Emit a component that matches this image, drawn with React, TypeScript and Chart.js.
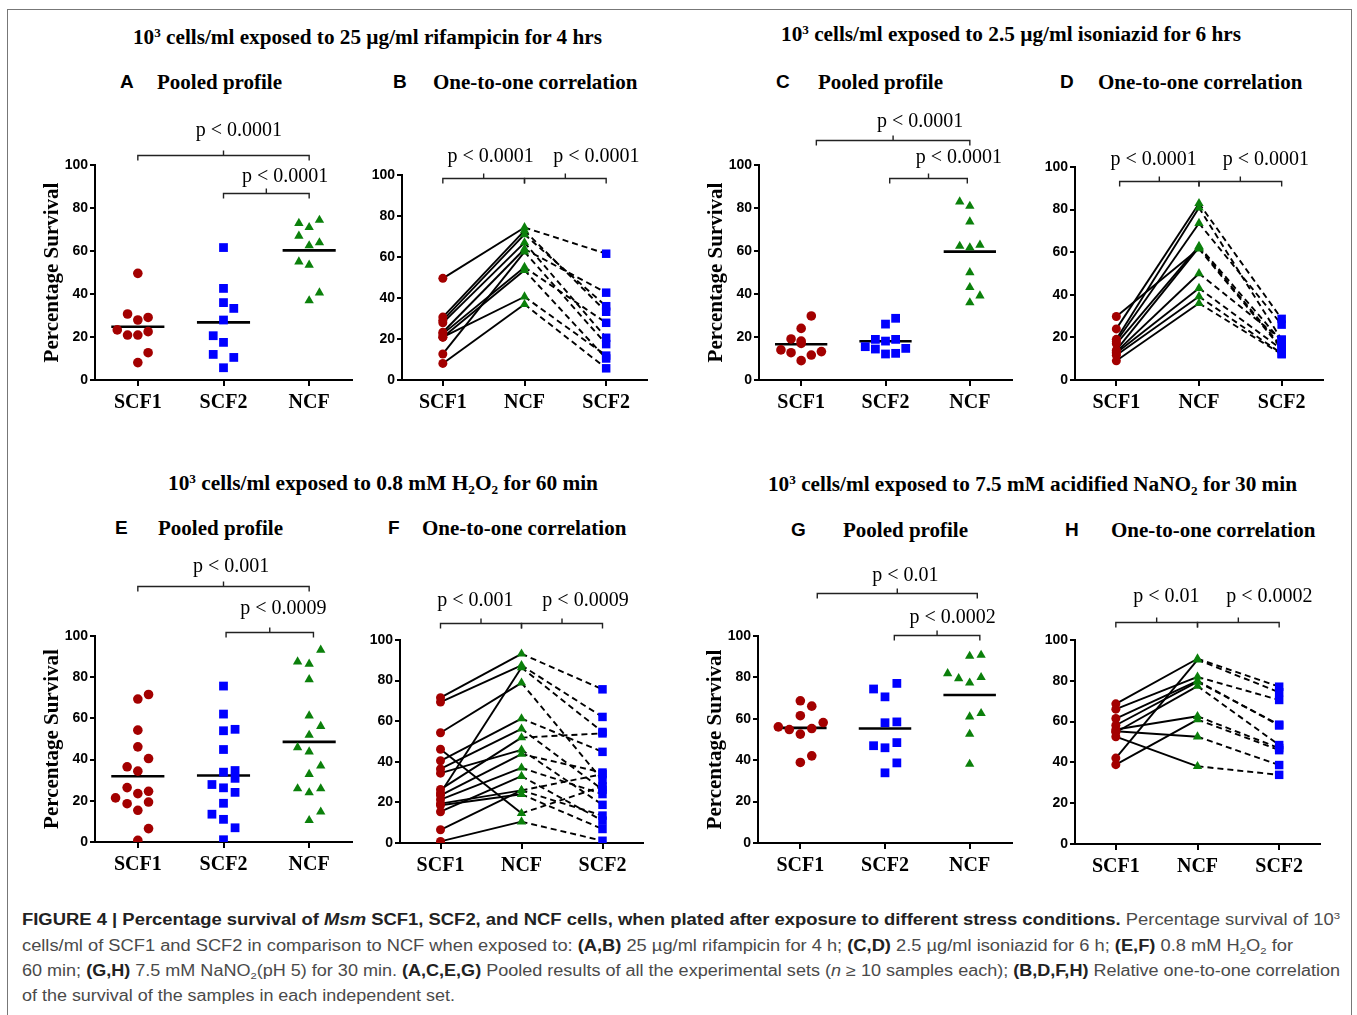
import React, { useEffect, useLayoutEffect, useRef } from 'react';
import { Chart, registerables } from 'chart.js';

Chart.register(...registerables);

// ---------------- data ----------------
const pooledCategories = ['SCF1', 'SCF2', 'NCF'];
const pairedCategories = ['SCF1', 'NCF', 'SCF2'];
const yTickValues = [0, 20, 40, 60, 80, 100];

// A - rifampicin pooled
const aScf1 = [23.3, 30.7, 49.6, 27.9, 20.9, 20.9, 29.1, 22.5, 12.7, 8.1];
const aScf1Jitter = [-0.24, -0.12, 0, 0, 0, -0.12, 0.12, 0.12, 0.12, 0];
const aScf2 = [61.6, 42.6, 36.0, 33.3, 27.9, 20.6, 17.5, 11.9, 10.5, 5.7];
const aScf2Jitter = [0, 0, 0, 0.12, 0, -0.12, 0, -0.12, 0.12, 0];
const aNcf = [72.9, 71.0, 74.4, 67.0, 62.5, 63.9, 55.0, 53.5, 40.6, 36.9];
const aNcfJitter = [-0.12, 0, 0.12, -0.12, 0, 0.12, -0.12, 0, 0.12, 0];
const aMeans = [24.8, 26.8, 60.3];
const aBrackets = [
  { from: 0, to: 2, y: 104.7, text: 'p < 0.0001', tx: 1.18, ty: 115.8 },
  { from: 1, to: 2, y: 87.0, text: 'p < 0.0001', tx: 1.72, ty: 94.4 },
];

// B - rifampicin one-to-one
const bScf1 = [49.6, 30.7, 29.1, 27.9, 23.3, 22.5, 20.9, 20.9, 12.7, 8.1];
const bNcf = [74.4, 72.9, 71.0, 67.0, 63.9, 55.0, 53.5, 40.6, 62.5, 36.9];
const bScf2 = [61.6, 33.3, 36.0, 20.6, 42.6, 27.9, 10.5, 11.9, 17.5, 5.7];
const bBrackets = [
  { from: 0, to: 1, y: 98.5, text: 'p < 0.0001', tx: 0.585, ty: 108.8 },
  { from: 1, to: 2, y: 98.5, text: 'p < 0.0001', tx: 1.88, ty: 108.8 },
];

// C - isoniazid pooled
const cScf1 = [29.8, 24.0, 19.1, 18.1, 14.0, 12.7, 13.2, 11.6, 9.0, 17.0];
const cScf1Jitter = [0.12, 0, -0.12, 0, -0.24, -0.12, 0.24, 0.12, 0, 0];
const cScf2 = [28.7, 26.0, 18.9, 18.1, 18.9, 15.5, 14.4, 14.7, 12.1, 12.4];
const cScf2Jitter = [0.12, 0, -0.12, 0, 0.12, -0.24, -0.12, 0.24, 0, 0.12];
const cNcf = [82.9, 80.9, 73.6, 62.3, 61.6, 62.8, 50.0, 43.1, 39.2, 36.0];
const cNcfJitter = [-0.12, 0, 0, -0.12, 0, 0.12, 0, 0, 0.12, 0];
const cMeans = [16.6, 18.0, 59.7];
const cBrackets = [
  { from: 0.18, to: 2.0, y: 111.6, text: 'p < 0.0001', tx: 1.41, ty: 120.0 },
  { from: 1.05, to: 1.97, y: 94.0, text: 'p < 0.0001', tx: 1.87, ty: 103.3 },
];

// D - isoniazid one-to-one
const dScf1 = [29.8, 24.0, 19.1, 18.1, 17.0, 14.0, 13.2, 12.7, 11.6, 9.0];
const dNcf = [61.6, 82.9, 80.9, 73.6, 62.8, 62.3, 50.0, 43.1, 39.2, 36.0];
const dScf2 = [14.7, 28.7, 18.9, 26.0, 18.1, 15.5, 18.9, 14.4, 12.4, 12.1];
const dBrackets = [
  { from: 0.04, to: 1, y: 93.6, text: 'p < 0.0001', tx: 0.45, ty: 103.3 },
  { from: 1, to: 2, y: 93.6, text: 'p < 0.0001', tx: 1.81, ty: 103.3 },
];

// E - H2O2 pooled
const eScf1 = [69.4, 71.6, 54.3, 46.2, 40.5, 36.5, 34.4, 26.4, 23.5, 24.6, 21.4, 18.6, 19.4, 15.4, 6.5, 0.8];
const eScf1Jitter = [0, 0.125, 0, 0, 0.125, -0.125, 0, -0.125, 0, 0.125, -0.26, -0.125, 0.125, 0, 0.125, 0];
const eScf2 = [75.7, 62.1, 54.0, 54.7, 44.9, 33.9, 34.7, 30.9, 27.9, 26.3, 24.1, 18.8, 13.5, 11.0, 6.9, 1.1];
const eScf2Jitter = [0, 0, 0, 0.135, 0, 0, 0.135, 0.135, -0.135, 0, 0.135, 0, -0.135, 0, 0.135, 0];
const eNcf = [93.2, 87.5, 86.4, 78.9, 61.3, 56.2, 51.9, 45.9, 43.8, 37.0, 32.9, 25.9, 24.0, 25.9, 14.6, 10.5];
const eNcfJitter = [0.135, -0.135, 0, 0, 0, 0.135, 0, -0.135, 0, 0.135, 0, -0.135, 0, 0.135, 0.135, 0];
const eMeans = [31.9, 32.3, 48.6];
const eBrackets = [
  { from: 0, to: 2, y: 124.3, text: 'p < 0.001', tx: 1.09, ty: 133.5 },
  { from: 1.03, to: 2.05, y: 101.9, text: 'p < 0.0009', tx: 1.70, ty: 113.1 },
];

// F - H2O2 one-to-one
const fScf1 = [71.6, 69.4, 54.3, 46.2, 24.6, 40.5, 36.5, 34.4, 26.4, 23.5, 21.4, 19.4, 18.6, 15.4, 6.5, 0.8];
const fNcf = [93.2, 87.5, 78.9, 14.6, 86.4, 61.3, 56.2, 45.9, 51.9, 43.8, 37.0, 25.9, 24.0, 32.9, 25.9, 10.5];
const fScf2 = [75.7, 62.1, 30.9, 27.9, 54.7, 44.9, 26.3, 18.8, 54.0, 34.7, 24.1, 33.9, 6.9, 11.0, 13.5, 1.1];
const fBrackets = [
  { from: 0, to: 1, y: 108.4, text: 'p < 0.001', tx: 0.43, ty: 119.2 },
  { from: 1, to: 2, y: 108.4, text: 'p < 0.0009', tx: 1.79, ty: 119.2 },
];

// G - NaNO2 pooled
const gScf1 = [68.7, 66.1, 61.5, 58.2, 56.1, 54.8, 55.3, 52.6, 42.1, 38.9];
const gScf1Jitter = [0, 0.135, 0, 0.27, -0.26, -0.13, 0.135, 0, 0.135, 0];
const gScf2 = [74.4, 77.1, 70.6, 58.1, 58.5, 48.5, 47.0, 46.0, 38.7, 33.9];
const gScf2Jitter = [-0.135, 0.14, 0, 0, 0.14, 0.14, -0.135, 0, 0.14, 0];
const gNcf = [90.3, 90.8, 81.9, 79.5, 77.4, 80.0, 61.0, 62.6, 52.6, 38.1];
const gNcfJitter = [0, 0.135, -0.26, -0.13, 0, 0.135, 0, 0.135, 0, 0];
const gMeans = [55.6, 55.3, 71.5];
const gBrackets = [
  { from: 0.2, to: 2.09, y: 120.8, text: 'p < 0.01', tx: 1.24, ty: 129.0 },
  { from: 1.11, to: 2.12, y: 100.5, text: 'p < 0.0002', tx: 1.80, ty: 108.7 },
];

// H - NaNO2 one-to-one
const hScf1 = [68.7, 66.1, 61.5, 58.2, 56.1, 55.3, 52.6, 54.8, 42.1, 38.9];
const hNcf = [90.8, 81.9, 80.0, 79.5, 62.6, 52.6, 38.1, 77.4, 90.3, 61.0];
const hScf2 = [77.1, 70.6, 58.1, 58.5, 47.0, 38.7, 33.9, 48.5, 74.4, 46.0];
const hBrackets = [
  { from: 0, to: 1, y: 108.8, text: 'p < 0.01', tx: 0.62, ty: 121.0 },
  { from: 1, to: 2, y: 108.8, text: 'p < 0.0002', tx: 1.88, ty: 121.0 },
];

// ---------------- styles ----------------
const SERIF = '"Liberation Serif", "Times New Roman", serif';
const SANS = '"Liberation Sans", Arial, sans-serif';
const NARROW = '"Liberation Sans Narrow", "Liberation Sans", Arial, sans-serif';
const RED = '#a30000';
const BLUE = '#0000ff';
const GREEN = '#0b800b';
const PAD_TOP = 90;
const PAD_RIGHT = 12;
const X_AXIS_H = 45;

type Bracket = { from: number; to: number; y: number; text: string; tx: number; ty: number };

type PanelSpec = {
  kind: 'pooled' | 'paired';
  L: number; R: number; T: number; B: number;
  s1: number[]; s2: number[]; s3: number[];
  j1?: number[]; j2?: number[]; j3?: number[];
  means?: number[];
  brackets: Bracket[];
};

const panels: PanelSpec[] = [
  { kind: 'pooled', L: 95, R: 352, T: 165, B: 380, s1: aScf1, s2: aScf2, s3: aNcf, j1: aScf1Jitter, j2: aScf2Jitter, j3: aNcfJitter, means: aMeans, brackets: aBrackets },
  { kind: 'paired', L: 402, R: 647, T: 175, B: 380, s1: bScf1, s2: bNcf, s3: bScf2, brackets: bBrackets },
  { kind: 'pooled', L: 759, R: 1012, T: 165, B: 380, s1: cScf1, s2: cScf2, s3: cNcf, j1: cScf1Jitter, j2: cScf2Jitter, j3: cNcfJitter, means: cMeans, brackets: cBrackets },
  { kind: 'paired', L: 1075, R: 1323, T: 167, B: 380, s1: dScf1, s2: dNcf, s3: dScf2, brackets: dBrackets },
  { kind: 'pooled', L: 95, R: 352, T: 636, B: 842, s1: eScf1, s2: eScf2, s3: eNcf, j1: eScf1Jitter, j2: eScf2Jitter, j3: eNcfJitter, means: eMeans, brackets: eBrackets },
  { kind: 'paired', L: 400, R: 643, T: 640, B: 843, s1: fScf1, s2: fNcf, s3: fScf2, brackets: fBrackets },
  { kind: 'pooled', L: 758, R: 1012, T: 636, B: 843, s1: gScf1, s2: gScf2, s3: gNcf, j1: gScf1Jitter, j2: gScf2Jitter, j3: gNcfJitter, means: gMeans, brackets: gBrackets },
  { kind: 'paired', L: 1075, R: 1320, T: 640, B: 844, s1: hScf1, s2: hNcf, s3: hScf2, brackets: hBrackets },
];

function makeBracketPlugin(items: Bracket[]) {
  return {
    id: 'brackets',
    afterDraw(chart: any) {
      const { ctx } = chart;
      const x = chart.scales.x;
      const y = chart.scales.y;
      ctx.save();
      ctx.strokeStyle = '#222';
      ctx.lineWidth = 1.4;
      ctx.fillStyle = '#000';
      ctx.font = `20px ${SERIF}`;
      ctx.textAlign = 'center';
      ctx.textBaseline = 'middle';
      for (const b of items) {
        const x1 = x.getPixelForValue(b.from);
        const x2 = x.getPixelForValue(b.to);
        const py = Math.round(y.getPixelForValue(b.y)) + 0.5;
        const xm = (x1 + x2) / 2;
        ctx.beginPath();
        ctx.moveTo(x1, py + 5);
        ctx.lineTo(x1, py);
        ctx.lineTo(x2, py);
        ctx.lineTo(x2, py + 5);
        ctx.moveTo(xm, py);
        ctx.lineTo(xm, py - 5);
        ctx.stroke();
        ctx.fillText(b.text, x.getPixelForValue(b.tx), y.getPixelForValue(b.ty));
      }
      ctx.restore();
    },
  };
}

function buildDatasets(p: PanelSpec) {
  const ds: any[] = [];
  if (p.kind === 'pooled') {
    const groups = [
      { vals: p.s1, jit: p.j1!, color: RED, style: 'circle', r: 4.8 },
      { vals: p.s2, jit: p.j2!, color: BLUE, style: 'rect', r: 6.2 },
      { vals: p.s3, jit: p.j3!, color: GREEN, style: 'triangle', r: 5.4 },
    ];
    groups.forEach((g, cat) => {
      ds.push({
        data: g.vals.map((v, i) => ({ x: cat + g.jit[i], y: v })),
        pointStyle: g.style, pointRadius: g.r, backgroundColor: g.color, borderColor: g.color,
        borderWidth: 0, showLine: false, order: 0,
      });
    });
    (p.means || []).forEach((m, cat) => {
      ds.push({
        data: [{ x: cat - 0.31, y: m }, { x: cat + 0.31, y: m }],
        showLine: true, borderColor: '#000', borderWidth: 2.6, pointRadius: 0, order: 1,
      });
    });
  } else {
    ds.push({ data: p.s1.map((v) => ({ x: 0, y: v })), pointStyle: 'circle', pointRadius: 4.5, backgroundColor: RED, borderColor: RED, borderWidth: 0, showLine: false, order: 0 });
    ds.push({ data: p.s2.map((v) => ({ x: 1, y: v })), pointStyle: 'triangle', pointRadius: 5.4, backgroundColor: GREEN, borderColor: GREEN, borderWidth: 0, showLine: false, order: 0 });
    ds.push({ data: p.s3.map((v) => ({ x: 2, y: v })), pointStyle: 'rect', pointRadius: 6.0, backgroundColor: BLUE, borderColor: BLUE, borderWidth: 0, showLine: false, order: 0 });
    p.s1.forEach((v, i) => {
      ds.push({ data: [{ x: 0, y: v }, { x: 1, y: p.s2[i] }], showLine: true, borderColor: '#000', borderWidth: 1.9, pointRadius: 0, order: 1 });
      ds.push({ data: [{ x: 1, y: p.s2[i] }, { x: 2, y: p.s3[i] }], showLine: true, borderColor: '#000', borderWidth: 1.9, borderDash: [6, 4], pointRadius: 0, order: 1 });
    });
  }
  return ds;
}

function yAxisWidth(p: PanelSpec) {
  return p.kind === 'pooled' ? 80 : 50;
}

function ChartPanel({ spec }: { spec: PanelSpec }) {
  const ref = useRef<HTMLCanvasElement>(null);
  const yW = yAxisWidth(spec);
  const left = spec.L - yW;
  const top = spec.T - PAD_TOP;
  const width = spec.R + PAD_RIGHT - left;
  const height = spec.B + X_AXIS_H - top;
  useEffect(() => {
    const cats = spec.kind === 'pooled' ? pooledCategories : pairedCategories;
    const chart = new Chart(ref.current as HTMLCanvasElement, {
      type: 'scatter',
      data: { datasets: buildDatasets(spec) },
      plugins: [makeBracketPlugin(spec.brackets)],
      options: {
        animation: false,
        responsive: false,
        devicePixelRatio: 1,
        events: [],
        layout: { padding: { top: PAD_TOP, right: PAD_RIGHT, left: 0, bottom: 0 } },
        plugins: { legend: { display: false }, tooltip: { enabled: false } },
        scales: {
          x: {
            type: 'linear', min: -0.5, max: 2.5,
            afterBuildTicks: (s: any) => { s.ticks = cats.map((_, i) => ({ value: i })); },
            afterFit: (s: any) => { s.height = X_AXIS_H; },
            ticks: {
              callback: (_v: any, i: number) => cats[i] ?? '',
              font: { family: SERIF, size: 20, weight: 'bold' }, color: '#000', padding: 5,
              maxRotation: 0, autoSkip: false,
            },
            grid: { drawOnChartArea: false, drawTicks: true, tickLength: 6, color: '#000', lineWidth: 2 },
            border: { display: true, color: '#000', width: 2 },
          },
          y: {
            type: 'linear', min: 0, max: 100,
            afterBuildTicks: (s: any) => { s.ticks = yTickValues.map((v) => ({ value: v })); },
            afterFit: (s: any) => { s.width = yW; },
            ticks: { font: { family: NARROW, size: 14, weight: 'bold' }, color: '#000', padding: 2 },
            grid: { drawOnChartArea: false, drawTicks: true, tickLength: 5, color: '#000', lineWidth: 2 },
            border: { display: true, color: '#000', width: 2 },
            title: spec.kind === 'pooled'
              ? { display: true, text: 'Percentage Survival', font: { family: SERIF, size: 21, weight: 'bold' }, color: '#000', padding: { top: 25, bottom: 0 } }
              : { display: false },
          },
        },
      } as any,
    });
    return () => chart.destroy();
  }, [spec]);
  return (
    <canvas ref={ref} width={width} height={height}
      style={{ position: 'absolute', left, top, width, height }} />
  );
}

// ---------------- text helpers ----------------
function FitLine({ left, top, width, height, center, children, style }: any) {
  const ref = useRef<HTMLDivElement>(null);
  useLayoutEffect(() => {
    const el = ref.current;
    if (!el) return;
    el.style.transform = 'none';
    const w = el.getBoundingClientRect().width;
    if (w > 0) {
      const k = width / w;
      el.style.transform = center ? `translateX(-50%) scaleX(${k})` : `scaleX(${k})`;
    }
  }, [width, center]);
  return (
    <div ref={ref} style={{
      position: 'absolute', left, top, whiteSpace: 'nowrap', lineHeight: `${height}px`,
      transformOrigin: center ? '50% 50%' : '0 50%', ...style,
    }}>{children}</div>
  );
}

const supStyle: React.CSSProperties = { fontSize: '0.62em', verticalAlign: '0.6em', lineHeight: 0 };
const subStyle: React.CSSProperties = { fontSize: '0.62em', verticalAlign: '-0.3em', lineHeight: 0 };

function Header({ cx, cy, w, children }: any) {
  return (
    <FitLine left={cx - w / 2} top={cy - 12} width={w} height={24}
      style={{ fontFamily: SERIF, fontWeight: 'bold', fontSize: 20, color: '#000' }}>{children}</FitLine>
  );
}

function PanelLabel({ letter, lx, tx, cy }: any) {
  return (
    <>
      <div style={{ position: 'absolute', left: lx - 7, top: cy - 12, lineHeight: '24px', fontFamily: SANS, fontWeight: 'bold', fontSize: 19, color: '#000' }}>{letter}</div>
      <div style={{ position: 'absolute', left: tx, top: cy - 12, lineHeight: '24px', fontFamily: SERIF, fontWeight: 'bold', fontSize: 21, color: '#000', whiteSpace: 'nowrap' }}>
        {letter === 'A' || letter === 'C' || letter === 'E' || letter === 'G' ? 'Pooled profile' : 'One-to-one correlation'}
      </div>
    </>
  );
}

const capBase: React.CSSProperties = { fontFamily: SANS, fontSize: 16, color: '#4a4a4a' };
const B = ({ children }: any) => <span style={{ fontWeight: 'bold', color: '#222' }}>{children}</span>;

export default function App() {
  return (
    <div style={{ position: 'absolute', left: 0, top: 0, width: 1357, height: 1015, background: '#fff', overflow: 'hidden' }}>
      <div style={{ position: 'absolute', left: 7, top: 9, width: 1345, height: 1040, border: '1.5px solid #777', boxSizing: 'border-box' }} />

      <Header cx={367} cy={37} w={469}>10<span style={supStyle}>3</span> cells/ml exposed to 25 µg/ml rifampicin for 4 hrs</Header>
      <Header cx={1011} cy={34} w={460}>10<span style={supStyle}>3</span> cells/ml exposed to 2.5 µg/ml isoniazid for 6 hrs</Header>
      <Header cx={383} cy={483} w={430}>10<span style={supStyle}>3</span> cells/ml exposed to 0.8 mM H<span style={subStyle}>2</span>O<span style={subStyle}>2</span> for 60 min</Header>
      <Header cx={1032} cy={484} w={529}>10<span style={supStyle}>3</span> cells/ml exposed to 7.5 mM acidified NaNO<span style={subStyle}>2</span> for 30 min</Header>

      <PanelLabel letter="A" lx={127} tx={157} cy={82} />
      <PanelLabel letter="B" lx={400} tx={433} cy={82} />
      <PanelLabel letter="C" lx={783} tx={818} cy={82} />
      <PanelLabel letter="D" lx={1067} tx={1098} cy={82} />
      <PanelLabel letter="E" lx={122} tx={158} cy={528} />
      <PanelLabel letter="F" lx={395} tx={422} cy={528} />
      <PanelLabel letter="G" lx={798} tx={843} cy={530} />
      <PanelLabel letter="H" lx={1072} tx={1111} cy={530} />

      {panels.map((p, i) => <ChartPanel key={i} spec={p} />)}

      <FitLine left={22} top={910} width={1318} height={20} style={capBase}>
        <B>FIGURE 4 | Percentage survival of <i>Msm</i> SCF1, SCF2, and NCF cells, when plated after exposure to different stress conditions.</B> Percentage survival of 10<span style={supStyle}>3</span>
      </FitLine>
      <FitLine left={22} top={936} width={1271} height={20} style={capBase}>
        cells/ml of SCF1 and SCF2 in comparison to NCF when exposed to: <B>(A,B)</B> 25 µg/ml rifampicin for 4 h; <B>(C,D)</B> 2.5 µg/ml isoniazid for 6 h; <B>(E,F)</B> 0.8 mM H<span style={subStyle}>2</span>O<span style={subStyle}>2</span> for
      </FitLine>
      <FitLine left={22} top={961} width={1318} height={20} style={capBase}>
        60 min; <B>(G,H)</B> 7.5 mM NaNO<span style={subStyle}>2</span>(pH 5) for 30 min. <B>(A,C,E,G)</B> Pooled results of all the experimental sets (<i>n</i> ≥ 10 samples each); <B>(B,D,F,H)</B> Relative one-to-one correlation
      </FitLine>
      <FitLine left={22} top={986} width={433} height={20} style={capBase}>
        of the survival of the samples in each independent set.
      </FitLine>
    </div>
  );
}
